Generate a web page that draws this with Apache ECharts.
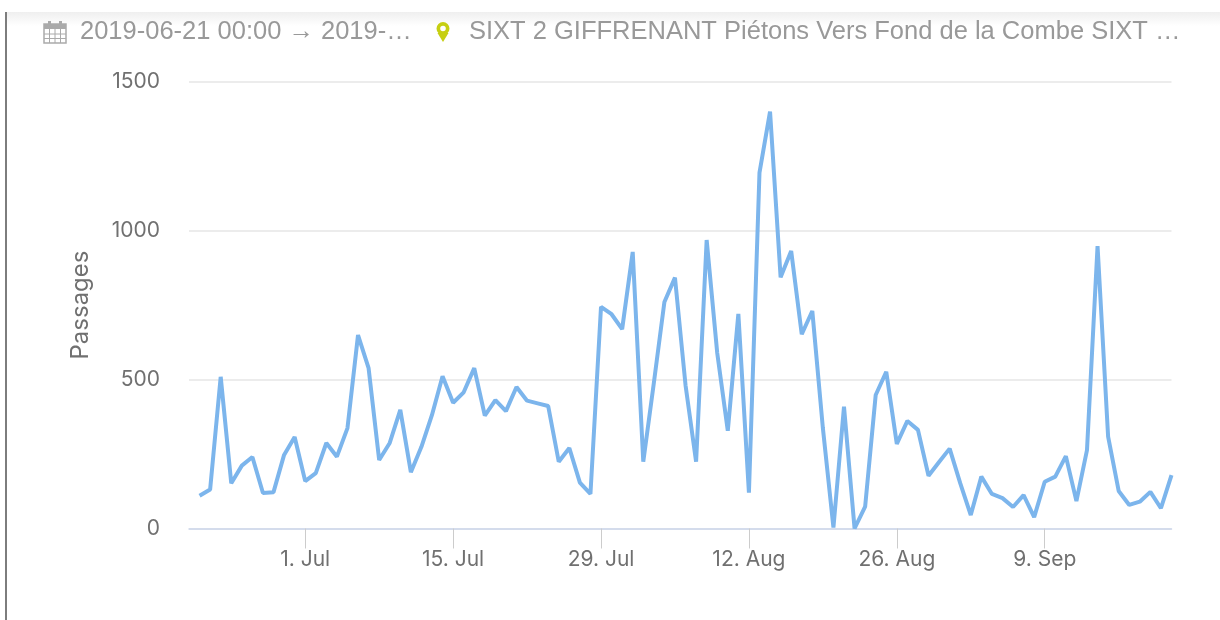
<!DOCTYPE html>
<html>
<head>
<meta charset="utf-8">
<style>html,body{margin:0;padding:0;background:#fff}#c{width:1220px;height:620px}</style>
<script src="https://cdn.jsdelivr.net/npm/echarts@6/dist/echarts.min.js"></script>
</head>
<body>
<div id="c"></div>
<script>
const firstDay = '2019-06-21';
const axisStartDay = '2019-06-20';
const lastDay = '2019-09-21';
const passages = [110,131,509,152,211,240,119,122,247,307,159,186,287,241,337,649,538,230,287,398,189,274,381,511,422,457,538,379,431,394,475,429,420,411,224,270,154,116,744,719,669,928,224,488,760,842,481,224,968,589,328,720,120,1194,1399,843,931,652,730,337,3,409,0,73,448,526,284,361,331,177,223,268,152,45,174,116,102,72,112,38,157,174,243,92,263,948,308,126,79,90,123,68,179];
const tickDays = ['2019-07-01','2019-07-15','2019-07-29','2019-08-12','2019-08-26','2019-09-09'];
const tickLabels = ['1. Jul','15. Jul','29. Jul','12. Aug','26. Aug','9. Sep'];
const yTicks = [0,500,1000,1500];
const yAxisName = 'Passages';
const dateText = '2019-06-21 00:00 \u2192 2019-\u2026';
const placeText = 'SIXT 2 GIFFRENANT Pi\u00e9tons Vers Fond de la Combe SIXT \u2026';

const DAY = 86400000;
const t0 = Date.parse(firstDay + 'T00:00:00Z');
const seriesData = passages.map((v, i) => [t0 + i * DAY, v]);
const tickTimes = tickDays.map(d => Date.parse(d + 'T00:00:00Z'));
const labelOf = {};
tickTimes.forEach((t, i) => { labelOf[t] = tickLabels[i]; });

const iconGrey = '#aaaaaa';
const pinColor = '#c6cf12';
const calendar = { type: 'group', children: [
  { type: 'rect', shape: { x: 44, y: 24, width: 22, height: 19 }, style: { fill: '#fff', stroke: iconGrey, lineWidth: 1.5 } },
  { type: 'rect', shape: { x: 44, y: 24, width: 22, height: 5 }, style: { fill: iconGrey } },
  { type: 'rect', shape: { x: 48, y: 21, width: 3, height: 6 }, style: { fill: iconGrey } },
  { type: 'rect', shape: { x: 59, y: 21, width: 3, height: 6 }, style: { fill: iconGrey } },
  { type: 'line', shape: { x1: 44, y1: 34, x2: 66, y2: 34 }, style: { stroke: iconGrey, lineWidth: 1 } },
  { type: 'line', shape: { x1: 44, y1: 38.5, x2: 66, y2: 38.5 }, style: { stroke: iconGrey, lineWidth: 1 } },
  { type: 'line', shape: { x1: 49.5, y1: 29, x2: 49.5, y2: 43 }, style: { stroke: iconGrey, lineWidth: 1 } },
  { type: 'line', shape: { x1: 55, y1: 29, x2: 55, y2: 43 }, style: { stroke: iconGrey, lineWidth: 1 } },
  { type: 'line', shape: { x1: 60.5, y1: 29, x2: 60.5, y2: 43 }, style: { stroke: iconGrey, lineWidth: 1 } }
]};
const pin = { type: 'group', children: [
  { type: 'polygon', shape: { points: [[437.5, 33], [448.5, 33], [443, 42]] }, style: { fill: pinColor } },
  { type: 'ring', shape: { cx: 443, cy: 28.5, r: 6.5, r0: 2.8 }, style: { fill: pinColor } }
]};

const chart = echarts.init(document.getElementById('c'), null, { renderer: 'canvas', width: 1220, height: 620 });
chart.setOption({
  animation: false,
  backgroundColor: '#ffffff',
  grid: { left: 189, right: 48.5, top: 81.5, bottom: 91.5, containLabel: false },
  xAxis: {
    type: 'value',
    min: Date.parse(axisStartDay + 'T00:00:00Z'),
    max: Date.parse(lastDay + 'T00:00:00Z'),
    axisLine: { show: true, onZero: false, lineStyle: { color: '#ccd6eb', width: 1.5 } },
    axisTick: { show: true, length: 20, customValues: tickTimes, lineStyle: { color: '#cccccc', width: 1 } },
    axisLabel: {
      customValues: tickTimes,
      formatter: v => labelOf[v] || '',
      color: '#707070', fontFamily: 'Inter', fontSize: 21, margin: 21,
      hideOverlap: false, showMinLabel: true, showMaxLabel: true
    },
    splitLine: { show: false }
  },
  yAxis: {
    type: 'value', min: yTicks[0], max: yTicks[yTicks.length - 1], interval: yTicks[1] - yTicks[0],
    name: yAxisName, nameLocation: 'middle', nameGap: 96, nameRotate: 90,
    nameTextStyle: { color: '#707070', fontFamily: 'Inter', fontSize: 24 },
    axisLine: { show: false }, axisTick: { show: false },
    axisLabel: { color: '#707070', fontFamily: 'Inter', fontSize: 21, margin: 29, formatter: v => String(v) },
    splitLine: { show: true, lineStyle: { color: '#e6e6e6', width: 1.5 } }
  },
  series: [{
    type: 'line', data: seriesData, showSymbol: false, symbol: 'none', smooth: false,
    lineStyle: { color: '#7cb5ec', width: 4 }, itemStyle: { color: '#7cb5ec' }
  }],
  graphic: [
    { type: 'rect', z: 0, shape: { x: 7, y: 12, width: 1213, height: 14 },
      style: { fill: new echarts.graphic.LinearGradient(0, 0, 0, 1, [{ offset: 0, color: '#efefef' }, { offset: 1, color: '#ffffff' }]) } },
    { type: 'rect', z: 1, shape: { x: 5, y: 12, width: 2, height: 608 }, style: { fill: '#7d7d7d' } },
    calendar,
    pin,
    { type: 'text', x: 80, y: 32, style: { text: dateText, fill: '#999999', fontFamily: 'Liberation Sans', fontSize: 25.5, verticalAlign: 'middle' } },
    { type: 'text', x: 469, y: 32, style: { text: placeText, fill: '#999999', fontFamily: 'Liberation Sans', fontSize: 25.5, verticalAlign: 'middle' } }
  ]
});
</script>
</body>
</html>
